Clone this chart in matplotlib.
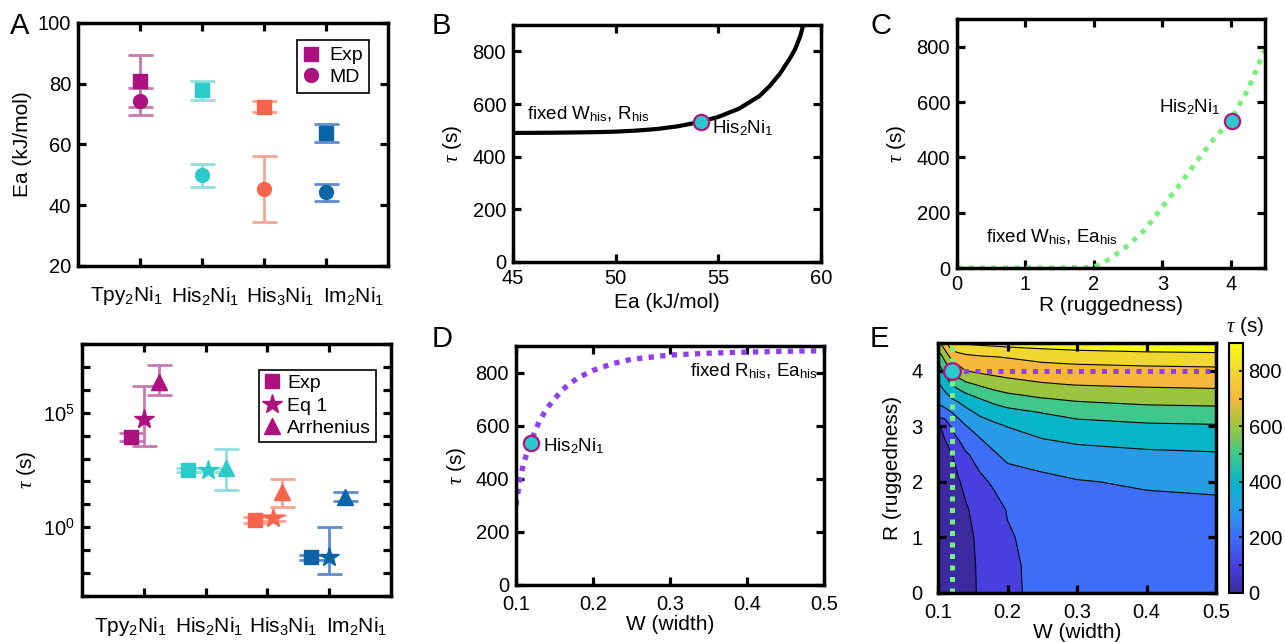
import matplotlib
matplotlib.use('Agg')
import matplotlib.pyplot as plt
import numpy as np
from matplotlib.colors import LinearSegmentedColormap, Normalize
from matplotlib.cm import ScalarMappable
from matplotlib.ticker import FixedLocator, LogLocator, NullFormatter, MultipleLocator

plt.rcParams['font.family'] = ['Liberation Sans', 'DejaVu Sans']
plt.rcParams['mathtext.fontset'] = 'custom'
plt.rcParams['mathtext.rm'] = 'Liberation Sans'
plt.rcParams['mathtext.it'] = 'Liberation Serif:italic'
plt.rcParams['mathtext.bf'] = 'Liberation Sans:bold'
plt.rcParams['font.size'] = 15

# ---- data ----
categories = ['Tpy$_2$Ni$_1$', 'His$_2$Ni$_1$', 'His$_3$Ni$_1$', 'Im$_2$Ni$_1$']
cat_x = [1, 2, 3, 4]

# panel A: activation energies (kJ/mol)
exp_ea = [81.0, 77.8, 72.5, 63.8]
exp_ea_err = [8.6, 3.0, 1.8, 3.0]
md_ea = [74.2, 49.8, 45.4, 44.2]
md_ea_err = [4.5, 3.9, 10.9, 2.7]

# lower left panel: lifetimes (s)
exp_x = [0.80, 1.72, 2.80, 3.70]
exp_tau = [8.7e3, 3.2e2, 2.1, 4.9e-2]
exp_lo = [6.0e3, 2.5e2, 1.6, 3.9e-2]
exp_hi = [1.26e4, 4.0e2, 2.8, 6.2e-2]
eq1_x = [1.00, 2.04, 3.09, 4.00]
eq1_tau = [5.2e4, 3.2e2, 2.5, 4.9e-2]
eq1_lo = [3.4e3, 2.5e2, 1.9, 9.0e-3]
eq1_hi = [1.4e6, 4.0e2, 3.3, 1.0]
arr_x = [1.25, 2.33, 3.24, 4.25]
arr_tau = [2.3e6, 3.8e2, 33.0, 22.0]
arr_lo = [6.2e5, 43.0, 8.0, 14.0]
arr_hi = [1.26e7, 2.7e3, 126.0, 35.0]

# panel B: tau vs Ea
b_ea = [45, 47, 49, 50, 51, 52, 53, 54, 55, 56, 57, 57.5, 58, 58.25, 58.5, 58.75, 59, 59.2, 59.4]
b_tau = [490, 491, 493, 495, 499, 505, 515, 530, 551, 582, 630, 668, 715, 745, 775, 810, 860, 920, 990]

# panel C: tau vs R
c_r = [0, 0.5, 1.0, 1.5, 2.0, 2.25, 2.5, 2.75, 3.0, 3.25, 3.5, 3.75, 4.0, 4.25, 4.5]
c_tau = [0, 0, 0, 0, 3, 35, 82, 140, 220, 300, 385, 465, 535, 645, 790]

# panel D: tau vs W
d_w = [0.1, 0.105, 0.11, 0.12, 0.13, 0.14, 0.15, 0.16, 0.18, 0.2, 0.225, 0.25, 0.3, 0.35, 0.4, 0.45, 0.5]
d_tau = [300, 395, 460, 545, 615, 665, 700, 735, 780, 808, 833, 850, 866, 873, 877, 880, 882]

# His2Ni1 reference point
his_ea, his_r, his_w, his_tau = 54.15, 4.02, 0.12, 533

# panel E: tau(W, R) map
e_w = [0.10, 0.11, 0.12, 0.13, 0.14, 0.16, 0.18, 0.20, 0.25, 0.30, 0.40, 0.50]
e_r = [0.0, 0.5, 1.0, 1.5, 2.0, 2.5, 3.0, 3.25, 3.5, 3.75, 4.0, 4.25, 4.5]
e_tau = [
    [0, 20, 40, 57, 75, 108, 148, 185, 220, 235, 245, 250],
    [0, 20, 40, 58, 76, 110, 150, 186, 222, 237, 247, 253],
    [2, 22, 43, 61, 80, 115, 155, 192, 228, 243, 254, 260],
    [5, 28, 50, 70, 92, 128, 168, 205, 240, 258, 272, 280],
    [15, 45, 72, 95, 120, 180, 212, 240, 272, 294, 312, 318],
    [40, 75, 98, 140, 190, 235, 288, 330, 352, 366, 383, 392],
    [85, 125, 215, 258, 295, 345, 378, 402, 438, 464, 483, 490],
    [250, 270, 300, 335, 370, 420, 447, 470, 503, 533, 555, 560],
    [330, 360, 400, 425, 452, 500, 533, 560, 596, 617, 637, 647],
    [385, 440, 500, 540, 575, 610, 640, 662, 690, 703, 714, 720],
    [435, 530, 620, 665, 700, 720, 732, 740, 754, 762, 770, 776],
    [540, 630, 735, 760, 776, 790, 798, 805, 830, 843, 857, 864],
    [660, 770, 880, 897, 912, 922, 930, 938, 950, 962, 975, 980],
]

# ---- styles ----
colors = ['#AD1180', '#2BCACB', '#F8634B', '#0B64A6']
err_colors = ['#C47BB2', '#92DEDF', '#F7A394', '#5F8CD0']
cat_label_x = [0.78, 2.05, 3.26, 4.45]
cyan = '#2CC9CC'
magenta = '#B0147F'
green = '#7AF07A'
purple = '#923CF5'
parula = LinearSegmentedColormap.from_list('parula_like', [
    '#3B2AA0', '#4740E0', '#3E6EF9', '#279BE6', '#08B5C8',
    '#3FC78D', '#9CC53F', '#F5B73B', '#F2D731', '#F8FA14'])

W_PX, H_PX = 1285, 642
fig = plt.figure(figsize=(W_PX / 100, H_PX / 100), dpi=100)


def add_ax(box):
    l, t, r, b = box
    return fig.add_axes([l / W_PX, 1 - b / H_PX, (r - l) / W_PX, (b - t) / H_PX])


def frame(ax, pad=5):
    for s in ax.spines.values():
        s.set_linewidth(2.5)
    ax.tick_params(which='both', direction='in', top=True, right=True,
                   length=5.5, width=2.3, labelsize=14.5, pad=pad)


def label_pos(ax, box, ylab_x=None, xlab_y=None):
    l, t, r, b = box
    if ylab_x is not None:
        ax.yaxis.label.set_va('center')
        ax.yaxis.set_label_coords((ylab_x - l) / (r - l), 0.5)
    if xlab_y is not None:
        ax.xaxis.label.set_va('center')
        ax.xaxis.set_label_coords(0.5, (b - xlab_y) / (b - t))


def category_labels(ax, box, y_px):
    l, t, r, b = box
    ax.set_xticks(cat_x)
    ax.set_xticklabels([])
    trans = ax.get_xaxis_transform()
    for xl, s in zip(cat_label_x, categories):
        ax.text(xl, (b - y_px) / (b - t), s, transform=trans, ha='center', va='center',
                fontsize=15)


def panel_letter(x, y, s):
    fig.text(x / W_PX, 1 - y / H_PX, s, fontsize=21, va='top', ha='left')


ebar = dict(fmt='none', elinewidth=2, capsize=9, capthick=2, zorder=2)

# ---- A ----
box_a = (78, 23, 388, 266)
ax = add_ax(box_a)
frame(ax)
for i in range(4):
    ax.errorbar(cat_x[i], exp_ea[i], yerr=exp_ea_err[i], ecolor=err_colors[i], **ebar)
    ax.errorbar(cat_x[i], md_ea[i], yerr=md_ea_err[i], ecolor=err_colors[i], **ebar)
    h1, = ax.plot(cat_x[i], exp_ea[i], 's', color=colors[i], ms=10, zorder=3)
    h2, = ax.plot(cat_x[i], md_ea[i], 'o', color=colors[i], ms=10, zorder=3)
    if i == 0:
        hs = [h1, h2]
ax.set_xlim(0, 5)
ax.set_ylim(20, 100)
ax.set_yticks([20, 40, 60, 80, 100])
category_labels(ax, box_a, 296)
ax.set_ylabel('Ea (kJ/mol)')
label_pos(ax, box_a, ylab_x=23)
leg = ax.legend(hs, ['Exp', 'MD'], loc='upper right', bbox_to_anchor=(0.94, 0.93),
                borderaxespad=0, fancybox=False, edgecolor='black', framealpha=1,
                handlelength=0.8, handletextpad=0.5, borderpad=0.35, labelspacing=0.2,
                fontsize=14)
leg.get_frame().set_linewidth(1.2)
panel_letter(10, 12, 'A')

# ---- lower left: lifetimes ----
box_f = (82, 344, 391, 596)
ax = add_ax(box_f)
frame(ax)
ax.set_yscale('log')
for i in range(4):
    ax.errorbar(exp_x[i], exp_tau[i], yerr=[[exp_tau[i] - exp_lo[i]], [exp_hi[i] - exp_tau[i]]],
                ecolor=err_colors[i], **ebar)
    ax.errorbar(eq1_x[i], eq1_tau[i], yerr=[[eq1_tau[i] - eq1_lo[i]], [eq1_hi[i] - eq1_tau[i]]],
                ecolor=err_colors[i], **ebar)
    ax.errorbar(arr_x[i], arr_tau[i], yerr=[[arr_tau[i] - arr_lo[i]], [arr_hi[i] - arr_tau[i]]],
                ecolor=err_colors[i], **ebar)
    h1, = ax.plot(exp_x[i], exp_tau[i], 's', color=colors[i], ms=9.5, zorder=3)
    h2, = ax.plot(eq1_x[i], eq1_tau[i], '*', color=colors[i], ms=15, zorder=3)
    h3, = ax.plot(arr_x[i], arr_tau[i], '^', color=colors[i], ms=11, zorder=3)
    if i == 0:
        hs = [h1, h2, h3]
ax.set_xlim(0, 5)
ax.set_ylim(1e-3, 1e8)
ax.yaxis.set_major_locator(FixedLocator([1.0, 1e5]))
ax.yaxis.set_minor_locator(LogLocator(base=10, subs=(1.0,), numticks=30))
ax.yaxis.set_minor_formatter(NullFormatter())
category_labels(ax, box_f, 626)
ax.set_ylabel(r'$\tau$ (s)')
label_pos(ax, box_f, ylab_x=27)
leg = ax.legend(hs, ['Exp', 'Eq 1', 'Arrhenius'], loc='upper right', bbox_to_anchor=(0.952, 0.898),
                borderaxespad=0, fancybox=False, edgecolor='black', framealpha=1,
                handlelength=0.8, handletextpad=0.4, borderpad=0.25, labelspacing=0.25,
                fontsize=14)
leg.get_frame().set_linewidth(1.2)

# ---- B ----
box_b = (513, 25, 821, 262)
ax = add_ax(box_b)
frame(ax)
ax.plot(b_ea, b_tau, color='black', lw=3, zorder=2)
ax.plot(his_ea, his_tau, 'o', ms=11, mfc=cyan, mec=magenta, mew=1.6, zorder=3)
ax.text(45.7, 562, r'fixed W$_{\rm his}$, R$_{\rm his}$', fontsize=13.5, va='center')
ax.text(54.7, 510, r'His$_2$Ni$_1$', fontsize=13.5, va='center')
ax.set_xlim(45, 60)
ax.set_ylim(0, 900)
ax.set_xticks([45, 50, 55, 60])
ax.set_yticks([0, 200, 400, 600, 800])
ax.set_xlabel('Ea (kJ/mol)')
ax.set_ylabel(r'$\tau$ (s)')
label_pos(ax, box_b, ylab_x=453, xlab_y=303)
panel_letter(432, 12, 'B')

# ---- C ----
box_c = (957, 19, 1265, 268)
ax = add_ax(box_c)
frame(ax)
ax.plot(c_r, c_tau, color=green, lw=3.6, ls=(0, (1, 1.3)), dash_capstyle='butt', zorder=2,
        clip_on=False)
ax.plot(his_r, his_tau, 'o', ms=11, mfc=cyan, mec=magenta, mew=1.6, zorder=3)
ax.text(0.42, 112, r'fixed W$_{\rm his}$, Ea$_{\rm his}$', fontsize=13.5, va='center')
ax.text(3.85, 580, r'His$_2$Ni$_1$', fontsize=13.5, va='center', ha='right')
ax.set_xlim(0, 4.5)
ax.set_ylim(0, 900)
ax.set_xticks([0, 1, 2, 3, 4])
ax.set_yticks([0, 200, 400, 600, 800])
ax.set_xlabel('R (ruggedness)')
ax.set_ylabel(r'$\tau$ (s)')
label_pos(ax, box_c, ylab_x=897, xlab_y=305)
panel_letter(870, 12, 'C')

# ---- D ----
box_d = (516, 346, 824, 585)
ax = add_ax(box_d)
frame(ax)
ax.tick_params(axis='x', pad=7)
ax.plot(d_w, d_tau, color=purple, lw=3.8, ls=(0, (1, 1.2)), dash_capstyle='butt', zorder=2)
ax.plot(his_w, his_tau, 'o', ms=11, mfc=cyan, mec=magenta, mew=1.6, zorder=3)
ax.text(0.492, 804, r'fixed R$_{\rm his}$, Ea$_{\rm his}$', fontsize=13.5, va='center', ha='right')
ax.text(0.135, 524, r'His$_2$Ni$_1$', fontsize=13.5, va='center')
ax.set_xlim(0.1, 0.5)
ax.set_ylim(0, 900)
ax.set_xticks([0.1, 0.2, 0.3, 0.4, 0.5])
ax.set_yticks([0, 200, 400, 600, 800])
ax.set_xlabel('W (width)')
ax.set_ylabel(r'$\tau$ (s)')
label_pos(ax, box_d, ylab_x=457, xlab_y=624)
panel_letter(432, 325, 'D')

# ---- E ----
box_e = (938, 343, 1216, 593)
ax = add_ax(box_e)
frame(ax)
ax.tick_params(axis='y', pad=11)
ax.tick_params(axis='x', pad=7)
levels = [0, 100, 200, 300, 400, 500, 600, 700, 800, 900, 1100]
band_colors = [parula(k / 9) for k in range(10)]
ax.contourf(e_w, e_r, np.array(e_tau), levels=levels, colors=band_colors, zorder=0)
ax.contour(e_w, e_r, np.array(e_tau), levels=levels[1:-1], colors='black', linewidths=0.8, zorder=1)
ax.plot([his_w, his_w], [0, 4.5], color=green, lw=3.6, ls=(0, (1, 1.3)), dash_capstyle='butt', zorder=2)
ax.plot([his_w, 0.5], [4.0, 4.0], color=purple, lw=3.6, ls=(0, (1, 1.3)), dash_capstyle='butt', zorder=2)
ax.plot(his_w, 4.0, 'o', ms=12, mfc=cyan, mec=magenta, mew=1.6, zorder=3)
ax.set_xlim(0.1, 0.5)
ax.set_ylim(0, 4.5)
ax.set_xticks([0.1, 0.2, 0.3, 0.4, 0.5])
ax.set_yticks([0, 1, 2, 3, 4])
ax.set_xlabel('W (width)')
ax.set_ylabel('R (ruggedness)')
label_pos(ax, box_e, ylab_x=893, xlab_y=632)
panel_letter(870, 325, 'E')

cax = add_ax((1229, 343, 1243, 593))
cb = fig.colorbar(ScalarMappable(norm=Normalize(0, 900), cmap=parula), cax=cax)
cb.set_ticks([0, 200, 400, 600, 800])
cax.yaxis.set_minor_locator(MultipleLocator(100))
cax.tick_params(which='both', direction='in', length=3, width=1.2, right=True, left=False,
                labelsize=14.5, pad=4)
cb.outline.set_linewidth(1.5)
fig.text(1245 / W_PX, 1 - 327 / H_PX, r'$\tau$ (s)', ha='center', va='center', fontsize=15)

fig.savefig('out.png', dpi=100)
